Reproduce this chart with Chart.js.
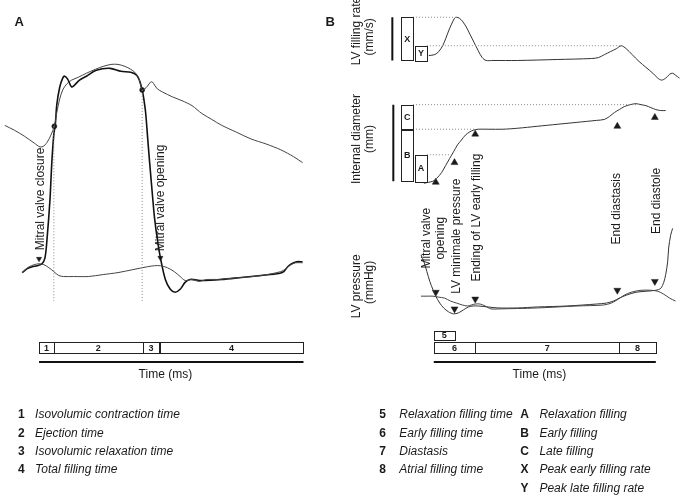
<!DOCTYPE html>
<html>
<head>
<meta charset="utf-8">
<script src="https://cdn.jsdelivr.net/npm/chart.js@4.4.0/dist/chart.umd.min.js"></script>
<style>
  html, body { margin: 0; padding: 0; background: #fff; }
</style>
</head>
<body>
<canvas id="chart" width="685" height="501"></canvas>
<script>
// Both panels share one sheet frame: x = time position, y = amplitude (top-down)

// Panel A traces
const aAorticPressure = [[0,123],[10,128],[20,134],[30,141],[36,145],[40,144],[44,139],[47,133],[50.5,124],[53,110],[56,96],[59,87],[63,81],[68,77],[75,74],[83,70],[92,66],[100,63],[108,61],[115,61],[122,63],[128,66],[132,69],[135,73],[137,78],[139.5,87],[142,86],[145,83],[148,79],[150,79],[152,82],[155,86],[160,89],[170,94],[180,98],[190,103],[200,111],[210,117],[220,123],[235,130],[250,137],[265,142],[280,148],[293,155],[302,161]];
const aLVPressure = [[18,273],[23,269],[28,267],[33,266],[38,264],[41,258],[43,240],[46,200],[48,160],[50,132],[51.5,122],[53,102],[56,84],[59,75],[61,73],[64,76],[68,84],[71,82],[76,77],[83,73],[93,67],[107,65],[118,68],[128,69],[134,72],[137,78],[139.5,87],[141,95],[143,110],[145,135],[147,160],[150,195],[152,217],[155,240],[158,258],[163,280],[168,290],[173,293],[178,290],[183,283],[188,280],[200,281],[220,280],[240,278],[260,276],[278,274],[283,272],[287,267],[291,264],[296,262],[302,262]];
const aLAPressure = [[18,273],[21,270],[25,267],[30,265],[35,264],[40,265],[45,268],[50,272],[55,276],[60,277],[70,277],[85,277],[100,275],[115,273],[130,270],[145,267],[152,266],[158,266],[165,268],[172,272],[178,277],[183,281],[190,280],[197,282],[205,280],[215,280],[240,278],[260,276],[280,272],[285,269],[290,265],[295,263],[302,263]];
const aValveDots = [[50.5,124],[139.5,87]];
const aValveMarks = [[35,259],[158,258]];
const aValveGuides = [[[50,124],[50,302]], [[139.5,87],[139.5,302]]];

// Panel B traces
const bFillingRate = [[430,52],[436,51],[440,48],[444,42],[447,35],[450,27],[453,20],[456,14],[458,13],[461,14],[464,17],[468,23],[472,31],[476,39],[480,47],[484,54],[488,57],[495,57],[520,57],[560,56],[595,55],[602,54],[608,51],[614,48],[620,45],[625,42],[630,45],[636,51],[643,58],[650,64],[657,70],[662,75],[666,77],[670,75],[674,71],[677,70],[680,72],[684,75]];
const bDiameter = [[425,182],[430,181],[434,180],[438,177],[443,171],[447,164],[451,157],[455,150],[459,143],[463,138],[467,133],[471,130],[475,128],[480,127],[490,127],[505,127],[520,126],[540,124],[560,122],[580,120],[600,118],[608,117],[613,114],[618,110],[623,107],[628,104],[634,102],[640,101],[645,102],[650,103],[655,105],[660,107],[665,108],[670,108]];
const bLVPressure = [[422,255],[425,262],[428,272],[431,282],[434,290],[437,297],[441,304],[445,309],[450,313],[455,315],[460,314],[465,311],[470,308],[475,307],[480,307],[490,308],[500,309],[520,309],[540,308],[570,307],[600,305],[610,304],[617,302],[623,299],[630,296],[640,293],[650,292],[660,291],[665,289],[668,283],[670,275],[672,262],[673,248],[675,235],[677,228]];
const bLAPressure = [[422,297],[428,297],[434,297],[440,298],[446,299],[452,302],[458,304],[464,306],[469,307],[473,306],[477,305],[482,305],[487,307],[493,310],[500,310],[540,309],[580,307],[607,306],[615,304],[622,300],[628,296],[635,293],[645,291],[655,291],[662,292],[668,295],[674,299],[680,302]];
const bEventsDiameter = [[437,181],[456,161],[477,132],[621,124],[659,115]];
const bEventsPressure = [[437,293],[456,310],[477,300],[621,291],[659,282]];
const bGuides = [[[414,13],[458,13]], [[428,42],[625,42]], [[414,102],[640,102]], [[414,127],[477,127]], [[428,153],[455,153]]];
const bRateScale = [[393,13],[393,57]];
const bDiamScale = [[394,102],[394,180]];

// amplitude boxes: [label, top, bottom]
const bRateBoxes = [['X',13,57],['Y',42,57]];
const bDiamBoxes = [['C',102,127],['B',127,180],['A',153,180]];

// phase bars: boundaries along the time axis
const aPhaseBounds = [35,50,140,157,303];
const aPhaseLabels = ['1','2','3','4'];
const bPhaseBounds = [435,477,623,660];
const bPhaseLabels = ['6','7','8'];
const bRelaxBounds = [435,456];
const bRelaxLabel = '5';

// event labels (rotated)
const aEventLabels = ['Mitral valve closure','Mitral valve opening'];
const bEventLabels = [['Mitral valve','opening'],['LV minimale pressure'],['Ending of LV early filling'],['End diastasis'],['End diastole']];

// legends
const aLegendKeys = ['1','2','3','4'];
const aLegendTexts = ['Isovolumic contraction time','Ejection time','Isovolumic relaxation time','Total filling time'];
const bLegendKeys = ['5','6','7','8'];
const bLegendTexts = ['Relaxation filling time','Early filling time','Diastasis','Atrial filling time'];
const cLegendKeys = ['A','B','C','X','Y'];
const cLegendTexts = ['Relaxation filling','Early filling','Late filling','Peak early filling rate','Peak late filling rate'];

const FONT = '"Liberation Sans", Arial, Helvetica, sans-serif';
const INK = '#1a1a1a';
const pts = arr => arr.map(([x, y]) => ({ x, y }));

const trace = (data, width, color) => ({
  data: pts(data), showLine: true, pointRadius: 0, borderColor: color,
  borderWidth: width, tension: 0.3, fill: false
});
const guide = (seg) => ({
  data: pts(seg), showLine: true, pointRadius: 0, borderColor: '#8a8a8a',
  borderWidth: 1, borderDash: [1, 2], tension: 0, fill: false
});
const marks = (data, style, rot, r) => ({
  data: pts(data), showLine: false, pointStyle: style, rotation: rot,
  pointRadius: r, backgroundColor: INK, borderColor: INK, borderWidth: 0.5
});

const datasets = [
  ...aValveGuides.map(guide),
  ...bGuides.map(guide),
  trace(aAorticPressure, 1, '#444'),
  trace(aLAPressure, 1, '#444'),
  trace(aLVPressure, 1.6, '#111'),
  trace(bFillingRate, 1, '#333'),
  trace(bDiameter, 1, '#333'),
  trace(bLAPressure, 1, '#444'),
  trace(bLVPressure, 1, '#333'),
  { ...trace(bRateScale, 2, '#111'), tension: 0 },
  { ...trace(bDiamScale, 2, '#111'), tension: 0 },
  marks(aValveDots, 'circle', 0, 2.5),
  marks(aValveMarks, 'triangle', 180, 3),
  marks(bEventsDiameter, 'triangle', 0, 4),
  marks(bEventsPressure, 'triangle', 180, 4)
];

const sheetText = {
  id: 'sheetText',
  afterDatasetsDraw(chart) {
    const ctx = chart.ctx;
    const px = v => chart.scales.x.getPixelForValue(v);
    const py = v => chart.scales.y.getPixelForValue(v);
    ctx.save();
    ctx.fillStyle = INK;
    ctx.strokeStyle = '#222';

    const text = (s, x, y, font, align) => {
      ctx.font = font;
      ctx.textAlign = align || 'center';
      ctx.textBaseline = 'middle';
      ctx.fillText(s, px(x), py(y));
    };
    const vtext = (s, x, y, font) => {
      ctx.save();
      ctx.translate(px(x), py(y));
      ctx.rotate(-Math.PI / 2);
      ctx.font = font;
      ctx.textAlign = 'center';
      ctx.textBaseline = 'middle';
      ctx.fillText(s, 0, 0);
      ctx.restore();
    };
    const box = (x0, x1, y0, y1, label, font) => {
      ctx.lineWidth = 1;
      ctx.strokeRect(Math.round(px(x0)) + 0.5, Math.round(py(y0)) + 0.5,
        Math.round(px(x1) - px(x0)), Math.round(py(y1) - py(y0)));
      if (label) text(label, (x0 + x1) / 2, (y0 + y1) / 2 + 0.5, font);
    };
    const hline = (x0, x1, y, w) => {
      ctx.lineWidth = w;
      ctx.beginPath();
      ctx.moveTo(px(x0), py(y));
      ctx.lineTo(px(x1), py(y));
      ctx.stroke();
    };

    const bold9 = 'bold 9px ' + FONT;
    const reg12 = '12px ' + FONT;
    const ital12 = 'italic 12px ' + FONT;
    const bold12 = 'bold 12px ' + FONT;

    // panel letters
    text('A', 15, 18, 'bold 13px ' + FONT);
    text('B', 330, 18, 'bold 13px ' + FONT);

    // panel A event labels
    vtext(aEventLabels[0], 37, 198, reg12);
    vtext(aEventLabels[1], 158, 197, reg12);

    // panel B axis titles
    vtext('LV filling rate', 357, 27, reg12);
    vtext('(mm/s)', 370, 33, reg12);
    vtext('Internal diameter', 357, 137, reg12);
    vtext('(mm)', 370, 137, reg12);
    vtext('LV pressure', 357, 287, reg12);
    vtext('(mmHg)', 370, 283, reg12);

    // panel B event labels
    const bEventX = [[428, 442], [458], [478], [620], [661]];
    const bEventY = [238, 236, 217, 208, 200];
    bEventLabels.forEach((lines, i) => {
      lines.forEach((s, j) => vtext(s, bEventX[i][j], bEventY[i], reg12));
    });

    // amplitude boxes
    box(402, 414, bRateBoxes[0][1], bRateBoxes[0][2], bRateBoxes[0][0], bold9);
    box(416, 428, bRateBoxes[1][1], bRateBoxes[1][2], bRateBoxes[1][0], bold9);
    box(402, 414, bDiamBoxes[0][1], bDiamBoxes[0][2], bDiamBoxes[0][0], bold9);
    box(402, 414, bDiamBoxes[1][1], bDiamBoxes[1][2], bDiamBoxes[1][0], bold9);
    box(416, 428, bDiamBoxes[2][1], bDiamBoxes[2][2], bDiamBoxes[2][0], bold9);

    // phase bars
    for (let i = 0; i < aPhaseLabels.length; i++) {
      box(aPhaseBounds[i], aPhaseBounds[i + 1], 344, 355, aPhaseLabels[i], bold9);
    }
    for (let i = 0; i < bPhaseLabels.length; i++) {
      box(bPhaseBounds[i], bPhaseBounds[i + 1], 344, 355, bPhaseLabels[i], bold9);
    }
    box(bRelaxBounds[0], bRelaxBounds[1], 332, 341, bRelaxLabel, bold9);

    // time axes
    ctx.strokeStyle = '#111';
    hline(aPhaseBounds[0], aPhaseBounds[aPhaseBounds.length - 1], 364, 2);
    hline(bPhaseBounds[0], bPhaseBounds[bPhaseBounds.length - 1], 364, 2);
    text('Time (ms)', 163, 377, reg12);
    text('Time (ms)', 542, 377, reg12);

    // legends
    const rows = [418, 437, 455, 474, 493];
    aLegendKeys.forEach((k, i) => {
      text(k, 17, rows[i], bold12);
      text(aLegendTexts[i], 31, rows[i], ital12, 'left');
    });
    bLegendKeys.forEach((k, i) => {
      text(k, 383, rows[i], bold12);
      text(bLegendTexts[i], 400, rows[i], ital12, 'left');
    });
    cLegendKeys.forEach((k, i) => {
      text(k, 527, rows[i], bold12);
      text(cLegendTexts[i], 542, rows[i], ital12, 'left');
    });
    ctx.restore();
  }
};

new Chart(document.getElementById('chart').getContext('2d'), {
  type: 'scatter',
  data: { datasets },
  options: {
    responsive: false,
    animation: false,
    devicePixelRatio: 1,
    layout: { padding: 0 },
    plugins: { legend: { display: false }, tooltip: { enabled: false } },
    scales: {
      x: { type: 'linear', min: 0, max: 685, display: false },
      y: { type: 'linear', min: 0, max: 501, reverse: true, display: false }
    }
  },
  plugins: [sheetText]
});
</script>
</body>
</html>
